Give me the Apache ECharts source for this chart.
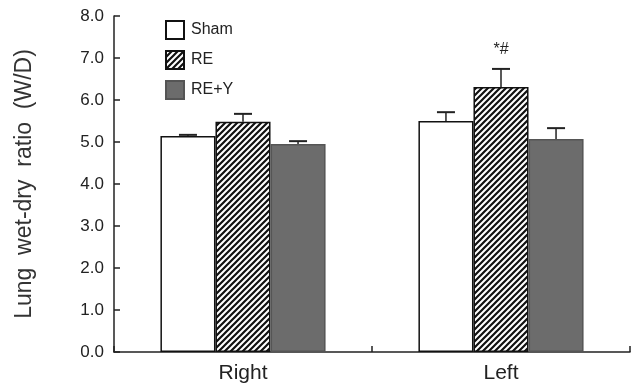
<!DOCTYPE html>
<html>
<head>
<meta charset="utf-8">
<script src="https://cdn.jsdelivr.net/npm/echarts@6/dist/echarts.min.js"></script>
<style>html,body{margin:0;padding:0;background:#fff;}#c{width:639px;height:388px;}</style>
</head>
<body>
<div id="c"></div>
<script>
const categories = ['Right', 'Left'];
const seriesNames = ['Sham', 'RE', 'RE+Y'];
const shamValues = [5.14, 5.50];
const reValues = [5.48, 6.31];
const reyValues = [4.95, 5.07];
const shamErrors = [0.03, 0.21];
const reErrors = [0.19, 0.43];
const reyErrors = [0.07, 0.26];
const reAnnotations = ['', '*#'];
const yTicks = ['0.0','1.0','2.0','3.0','4.0','5.0','6.0','7.0','8.0'];

function hatch() {
  const s = 6;
  const c = document.createElement('canvas');
  c.width = s; c.height = s;
  const g = c.getContext('2d');
  g.fillStyle = '#fff'; g.fillRect(0, 0, s, s);
  g.strokeStyle = '#111'; g.lineWidth = 2.2;
  g.beginPath();
  g.moveTo(-1, s + 1); g.lineTo(s + 1, -1);
  g.moveTo(-1, 1); g.lineTo(1, -1);
  g.moveTo(s - 1, s + 1); g.lineTo(s + 1, s - 1);
  g.stroke();
  return c;
}

const valueSets = [shamValues, reValues, reyValues];
const errorSets = [shamErrors, reErrors, reyErrors];
const annSets = [['', ''], reAnnotations, ['', '']];
const errData = [];
for (let si = 0; si < 3; si++) {
  for (let ci = 0; ci < categories.length; ci++) {
    errData.push([ci, si, valueSets[si][ci], errorSets[si][ci], annSets[si][ci]]);
  }
}
const gapFrac = 0.36;
const fills = ['#ffffff', { image: hatch(), repeat: 'repeat' }, '#6c6c6c'];
const borders = ['#111', '#111', '#555'];

const chart = echarts.init(document.getElementById('c'), null, { renderer: 'canvas' });
const barSeries = seriesNames.map((n, i) => ({
  name: n, type: 'bar', data: valueSets[i],
  barGap: '0%', barCategoryGap: (gapFrac * 100) + '%',
  itemStyle: { color: fills[i], borderColor: borders[i], borderWidth: 1.5 },
  emphasis: { disabled: true }, animation: false
}));

chart.setOption({
  animation: false,
  grid: { left: 114, right: 9, top: 16, bottom: 36 },
  legend: {
    orient: 'vertical', left: 160, top: 15, icon: 'rect',
    itemWidth: 18, itemHeight: 18, itemGap: 10,
    data: seriesNames,
    textStyle: { fontFamily: 'Liberation Sans, Arial, sans-serif', fontSize: 16, color: '#222', padding: [0, 0, 0, 2] }
  },
  xAxis: {
    type: 'category', data: categories,
    axisLine: { lineStyle: { color: '#222', width: 1.5 } },
    axisTick: { show: true, inside: true, length: 6, lineStyle: { color: '#222', width: 1.5 } },
    axisLabel: { fontFamily: 'Liberation Sans, Arial, sans-serif', fontSize: 21, color: '#222', margin: 11 },
    splitLine: { show: false }
  },
  yAxis: {
    type: 'value', min: 0, max: 8, interval: 1,
    name: 'Lung  wet-dry  ratio  (W/D)', nameLocation: 'middle', nameGap: 78,
    nameTextStyle: { fontFamily: 'Liberation Sans, Arial, sans-serif', fontSize: 23, color: '#333' },
    axisLine: { show: true, lineStyle: { color: '#222', width: 1.5 } },
    axisTick: { show: true, inside: true, length: 6, lineStyle: { color: '#222', width: 1.5 } },
    axisLabel: { fontFamily: 'Liberation Sans, Arial, sans-serif', fontSize: 17, color: '#222', margin: 10,
      formatter: v => yTicks[Math.round(v)] },
    splitLine: { show: false }
  },
  series: barSeries.concat([{
    type: 'custom', z: 5, animation: false, silent: true,
    encode: { x: 0, y: 2 },
    data: errData,
    renderItem: function (params, api) {
      const ci = api.value(0), si = api.value(1), v = api.value(2), e = api.value(3);
      const ann = errData[params.dataIndex][4];
      const band = api.size([1, 0])[0];
      const bw = band * (1 - gapFrac) / 3;
      const p0 = api.coord([ci, v]);
      const p1 = api.coord([ci, v + e]);
      const x = p0[0] + (si - 1) * bw;
      const children = [
        { type: 'line', shape: { x1: x, y1: p0[1], x2: x, y2: p1[1] }, style: { stroke: '#222', lineWidth: 1.5 } },
        { type: 'line', shape: { x1: x - 9, y1: p1[1], x2: x + 9, y2: p1[1] }, style: { stroke: '#222', lineWidth: 2 } }
      ];
      if (ann) {
        children.push({ type: 'text', style: { text: ann, x: x, y: p1[1] - 19, align: 'center', verticalAlign: 'middle',
          font: '16px "Liberation Sans", Arial, sans-serif', fill: '#222' } });
      }
      return { type: 'group', children: children };
    }
  }])
});
</script>
</body>
</html>
